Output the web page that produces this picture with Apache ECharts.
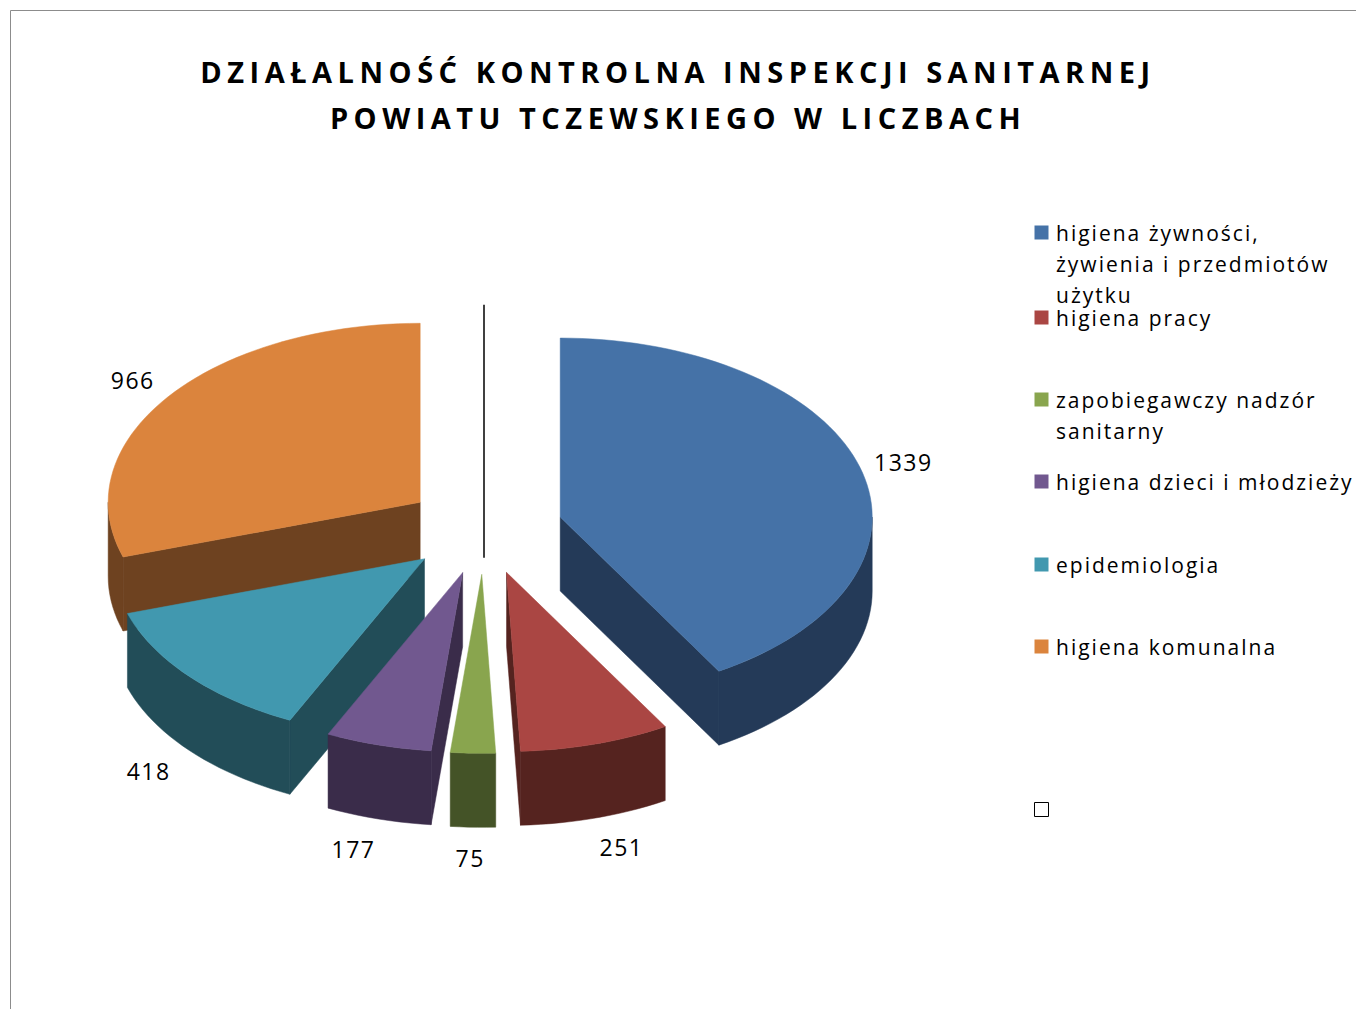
<!DOCTYPE html>
<html>
<head>
<meta charset="utf-8">
<script src="https://cdn.jsdelivr.net/npm/echarts@6/dist/echarts.min.js"></script>
<style>
  html, body { margin: 0; padding: 0; background: #fff; }
  #main { width: 1356px; height: 1009px; }
  /* Excel-like spaced lettering */
  #main text { letter-spacing: 1.5px; }
  #main text[style*="21px"] { letter-spacing: 2px; }
  #main text[style*="bold"] { letter-spacing: 5.5px; }
</style>
</head>
<body>
<div id="main"></div>
<script>
var categories = [
  'higiena żywności, żywienia i przedmiotów użytku',
  'higiena pracy',
  'zapobiegawczy nadzór sanitarny',
  'higiena dzieci i młodzieży',
  'epidemiologia',
  'higiena komunalna',
  ''
]
var values = [1339, 251, 75, 177, 418, 966, 0]
var topColors = ['#4572A7', '#AA4643', '#89A54E', '#71588F', '#4198AF', '#DB843D', '#ffffff']
var sideColors = ['#243A58', '#55231F', '#445327', '#3A2C4A', '#224D58', '#6E4220', '#ffffff']

// pie layout (px)
var cx = 484, cy = 529, rx = 312, ry = 179, depth = 74, explode = 79
var legendRows = [233, 318, 400, 482, 565, 647, 810]

var total = values.reduce(function (s, v) { return s + v }, 0)
var startAngles = []
var acc = 0
values.forEach(function (v) {
  startAngles.push(acc / total * 360)
  acc += v
})
function midAngle(i) {
  return startAngles[i] + values[i] / total * 180
}
// back slices first, front slices last
var order = values.map(function (v, i) { return i }).sort(function (p, q) {
  return -Math.cos(midAngle(p) * Math.PI / 180) + Math.cos(midAngle(q) * Math.PI / 180)
})
var rank = []
order.forEach(function (idx, r) { rank[idx] = r })

function rim(ax, ay, deg, dy) {
  var r = deg * Math.PI / 180
  return [ax + rx * Math.sin(r), ay - ry * Math.cos(r) + (dy || 0)]
}
function arc(ax, ay, a, b, dy) {
  var pts = []
  var n = Math.max(2, Math.ceil(Math.abs(b - a) / 2))
  for (var k = 0; k <= n; k++) pts.push(rim(ax, ay, a + (b - a) * k / n, dy))
  return pts
}

function renderSlice(params, api) {
  var i = params.dataIndex
  var v = api.value(0)
  var a = startAngles[i]
  var b = a + v / total * 360
  var m = (a + b) / 2 * Math.PI / 180
  var ax = cx + explode * Math.sin(m)
  var ay = cy - explode * (ry / rx) * Math.cos(m)
  var z = rank[i] * 10
  var children = []

  if (v === 0) {
    children.push({
      type: 'polyline', z2: z + 5,
      shape: { points: [rim(ax, ay, a), [ax, ay], [ax, ay + depth]] },
      style: { stroke: '#000', lineWidth: 1.5, fill: null }
    })
    return { type: 'group', children: children }
  }

  var side = { fill: sideColors[i], stroke: sideColors[i], lineWidth: 0.5 }
  // radial face at the start edge
  if (Math.sin(a * Math.PI / 180) < -1e-6) {
    var p = rim(ax, ay, a)
    children.push({
      type: 'polygon', z2: z + 1,
      shape: { points: [[ax, ay], p, [p[0], p[1] + depth], [ax, ay + depth]] },
      style: side
    })
  }
  // radial face at the end edge
  if (Math.sin(b * Math.PI / 180) > 1e-6) {
    var q = rim(ax, ay, b)
    children.push({
      type: 'polygon', z2: z + 1,
      shape: { points: [[ax, ay], q, [q[0], q[1] + depth], [ax, ay + depth]] },
      style: side
    })
  }
  // outer wall, front half only
  var lo = Math.max(a, 90), hi = Math.min(b, 270)
  if (hi > lo) {
    children.push({
      type: 'polygon', z2: z + 2,
      shape: { points: arc(ax, ay, lo, hi, 0).concat(arc(ax, ay, hi, lo, depth)) },
      style: side
    })
  }
  // top face
  children.push({
    type: 'polygon', z2: z + 3,
    shape: { points: [[ax, ay]].concat(arc(ax, ay, a, b, 0)) },
    style: { fill: topColors[i], stroke: topColors[i], lineWidth: 0.5 }
  })
  // value label, pushed a bit further out for the front slices (perspective)
  var front = Math.max(0, -Math.cos(m))
  var lx = ax + (1.14 + 0.18 * Math.pow(front, 4)) * rx * Math.sin(m)
  var ly = ay - 1.16 * ry * Math.cos(m) + (front > 0 ? depth + 2 : 0)
  children.push({
    type: 'text', z2: 200, x: lx, y: ly,
    style: {
      text: String(v), fill: '#000', font: '23px "Open Sans"',
      align: 'center', verticalAlign: 'middle'
    }
  })
  return { type: 'group', children: children }
}

// legend drawn as graphic items, Excel style
var legendGraphics = []
categories.forEach(function (name, i) {
  var y = legendRows[i]
  legendGraphics.push({
    type: 'rect',
    shape: { x: 1034.5, y: y - 7.5, width: 14, height: 14 },
    style: i === values.length - 1
      ? { fill: '#fff', stroke: '#000', lineWidth: 1 }
      : { fill: topColors[i] }
  })
  if (name) {
    legendGraphics.push({
      type: 'text', x: 1056, y: y - 15.5,
      style: {
        text: name, fill: '#000', font: '21px "Open Sans"',
        width: 285, overflow: 'break', lineHeight: 31,
        align: 'left', verticalAlign: 'top'
      }
    })
  }
})

var myChart = echarts.init(document.getElementById('main'), null, { renderer: 'svg' })
var option = {
  backgroundColor: '#fff',
  animation: false,
  title: {
    text: 'DZIAŁALNOŚĆ KONTROLNA INSPEKCJI SANITARNEJ\nPOWIATU TCZEWSKIEGO W LICZBACH',
    left: 'center',
    top: 43,
    textStyle: {
      fontFamily: 'Open Sans',
      fontSize: 29,
      fontWeight: 'bold',
      lineHeight: 46,
      color: '#000'
    }
  },
  graphic: [
    {
      type: 'rect',
      shape: { x: 10.5, y: 10.5, width: 2000, height: 2000 },
      style: { fill: null, stroke: '#8c8c8c', lineWidth: 1 }
    }
  ].concat(legendGraphics),
  series: [
    {
      type: 'custom',
      coordinateSystem: 'none',
      renderItem: renderSlice,
      data: values.map(function (v, i) { return { name: categories[i], value: [v] } })
    }
  ]
}
myChart.setOption(option)
</script>
</body>
</html>
